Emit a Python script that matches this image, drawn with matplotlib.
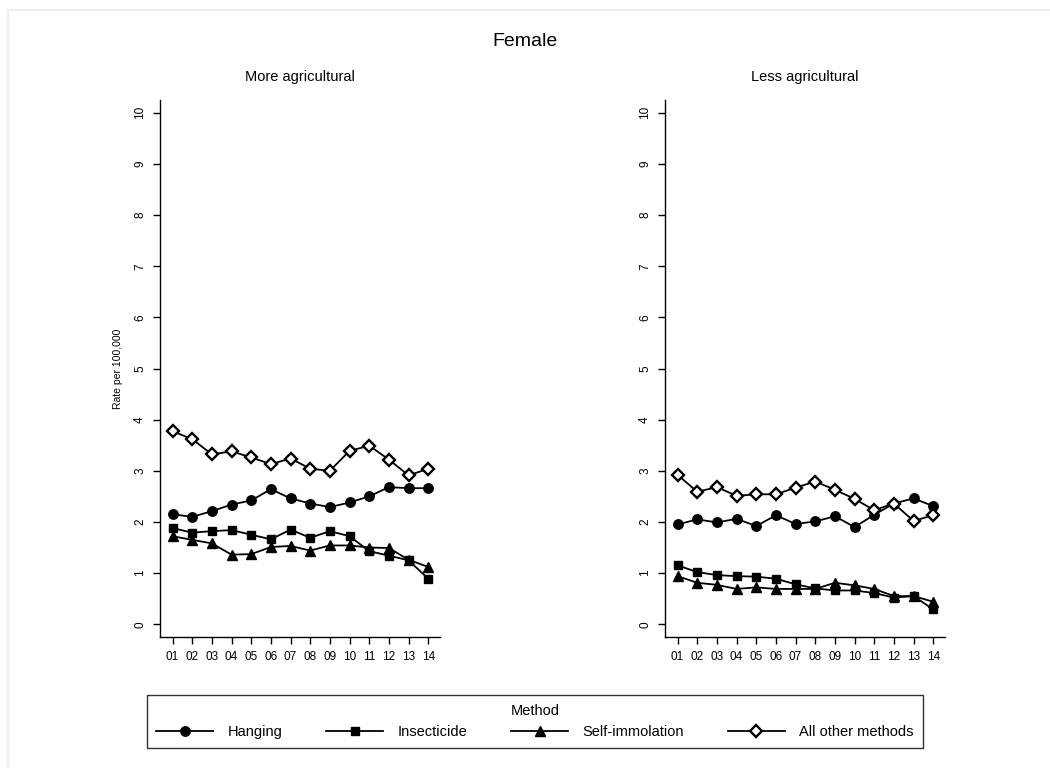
import matplotlib
matplotlib.use("Agg")
import matplotlib.pyplot as plt
from matplotlib.lines import Line2D

plt.rcParams['font.family'] = ['Liberation Sans', 'DejaVu Sans']

years = list(range(1, 15))
year_labels = ["01", "02", "03", "04", "05", "06", "07", "08", "09", "10", "11", "12", "13", "14"]
methods = ["Hanging", "Insecticide", "Self-immolation", "All other methods"]
panels = ["More agricultural", "Less agricultural"]

more_hanging = [2.15, 2.10, 2.21, 2.34, 2.42, 2.64, 2.46, 2.36, 2.29, 2.38, 2.50, 2.68, 2.66, 2.66]
more_insecticide = [1.88, 1.79, 1.82, 1.84, 1.75, 1.66, 1.85, 1.69, 1.82, 1.72, 1.43, 1.34, 1.25, 0.89]
more_selfimmolation = [1.72, 1.65, 1.58, 1.36, 1.37, 1.51, 1.53, 1.44, 1.54, 1.54, 1.50, 1.49, 1.26, 1.12]
more_other = [3.77, 3.62, 3.32, 3.38, 3.26, 3.13, 3.24, 3.04, 3.00, 3.39, 3.49, 3.22, 2.91, 3.04]

less_hanging = [1.95, 2.05, 1.99, 2.06, 1.92, 2.13, 1.96, 2.01, 2.11, 1.90, 2.14, 2.36, 2.46, 2.31]
less_insecticide = [1.15, 1.02, 0.96, 0.94, 0.93, 0.89, 0.78, 0.70, 0.66, 0.66, 0.61, 0.52, 0.55, 0.29]
less_selfimmolation = [0.94, 0.81, 0.77, 0.69, 0.72, 0.69, 0.69, 0.69, 0.81, 0.76, 0.69, 0.55, 0.55, 0.44]
less_other = [2.92, 2.59, 2.68, 2.51, 2.54, 2.54, 2.67, 2.79, 2.63, 2.45, 2.23, 2.36, 2.02, 2.13]

data = {
    "More agricultural": [more_hanging, more_insecticide, more_selfimmolation, more_other],
    "Less agricultural": [less_hanging, less_insecticide, less_selfimmolation, less_other],
}

styles = [
    dict(marker='o', markersize=6.8, markerfacecolor='black', markeredgecolor='black'),
    dict(marker='s', markersize=6.2, markerfacecolor='black', markeredgecolor='black'),
    dict(marker='^', markersize=6.8, markerfacecolor='black', markeredgecolor='black'),
    dict(marker='D', markersize=5.8, markerfacecolor='white', markeredgecolor='black', markeredgewidth=1.7),
]

W, H = 1050, 768
fig = plt.figure(figsize=(W / 100, H / 100), dpi=100)

def fx(px):
    return px / W

def fy(py):
    return 1 - py / H

ax_left_px = [160, 665]
ax_w_px = 280
ax_top_px, ax_bot_px = 100, 637

for i, panel in enumerate(panels):
    ax = fig.add_axes([fx(ax_left_px[i]), fy(ax_bot_px), ax_w_px / W, (ax_bot_px - ax_top_px) / H])
    for series, st in zip(data[panel], styles):
        ax.plot(years, series, color='black', linewidth=1.3, **st)
    ax.set_xlim(0.36, 14.6)
    ax.set_ylim(-0.25, 10.25)
    ax.set_xticks(years)
    ax.set_xticklabels(year_labels, fontsize=8.5)
    ax.set_yticks(range(0, 11))
    ax.set_yticklabels([str(v) for v in range(0, 11)], fontsize=8.5, rotation=90, va='center')
    for s in ['top', 'right']:
        ax.spines[s].set_visible(False)
    for s in ['left', 'bottom']:
        ax.spines[s].set_linewidth(1.0)
    ax.tick_params(axis='both', direction='out', length=5, width=1.0, pad=5)
    ax.set_title(panel, fontsize=10.5, pad=14)
    if i == 0:
        ax.set_ylabel("Rate per 100,000", fontsize=7.5, labelpad=8)

fig.text(fx(525), fy(42), "Female", fontsize=14, ha='center', va='center')

handles = [Line2D([0], [0], color='black', linewidth=1.3, **st) for st in styles]
leg = fig.legend(handles, methods, ncol=4, title="Method", fontsize=10.5, title_fontsize=10.5,
                 loc='center', bbox_to_anchor=(fx(535), fy(721.5)),
                 handlelength=3.9, handletextpad=1.0, columnspacing=3.0,
                 frameon=True, fancybox=False, borderpad=0.6, borderaxespad=0)
leg.get_frame().set_edgecolor('black')
leg.get_frame().set_linewidth(1.0)

# faint outer border
fig.add_artist(Line2D([fx(8), fx(8)], [fy(10), 0], color='#eeeeee', linewidth=1.5))
fig.add_artist(Line2D([fx(8), 1], [fy(10), fy(10)], color='#eeeeee', linewidth=1.5))

fig.savefig("out.png", dpi=100, facecolor='white')
